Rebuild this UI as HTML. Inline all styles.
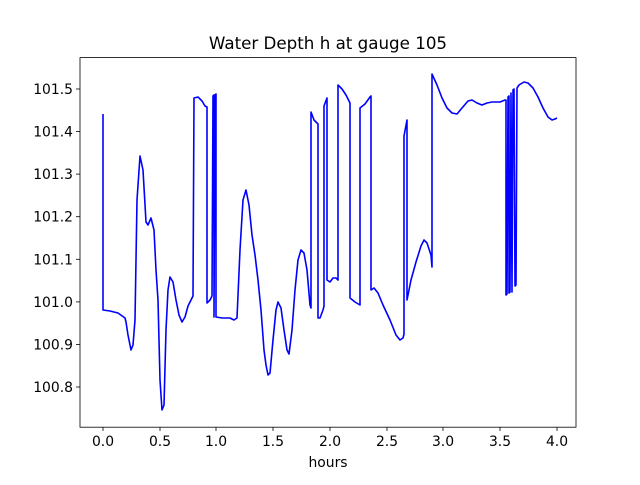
<!DOCTYPE html>
<html><head><style>
body{margin:0;background:#fff;}
svg text{font-family:"DejaVu Sans","Liberation Sans",sans-serif;font-size:13.9px;fill:#000;}
</style></head><body>
<svg width="640" height="480" xmlns="http://www.w3.org/2000/svg">
<rect width="640" height="480" fill="#fff"/>
<polyline fill="none" stroke="#0000ff" stroke-width="1.6" stroke-linejoin="round" points="
103,114 103,310 110,311 118,313 125,318 126,322 128,335 131,350 133,345 135,320 137,200 140,156 143,170 146,222 148,225 151,218 154,230 156,270 158,300 160,380 162,410 164,405 166,330 168,290 170,277 173,282 176,300 179,315 182,322 185,317 188,306 191,300 193,296 194,98 198,97 202,101 205,106 207,107 207,303 210,300 212,296 213,96 214,95 214,317 215,95 216,94 216,317 222,318 230,318 234,320 237,318 240,250 243,200 246,190 249,205 252,235 255,255 258,280 261,310 264,350 266,365 268,375 270,373 273,340 276,310 278,302 281,308 284,330 287,350 289,354 292,330 295,290 298,260 301,250 304,253 307,270 310,305 311,308 311,112 314,120 318,124 318,318 320,318 323,310 324,306 324,106 327,98 327,280 330,282 333,278 336,278 338,280 338,85 342,89 346,95 350,103 350,298 355,302 360,305 360,108 365,104 370,97 371,96 371,290 374,288 378,293 383,305 390,320 396,335 400,340 403,338 404,334 404,136 407,120 407,300 411,280 416,262 421,246 424,240 427,243 431,255 432,267 432,74 437,85 442,98 447,108 452,113 457,114 462,108 468,101 472,100 477,103 482,105 487,103 492,102 500,102 505,100 506,100 506,295 507,294 508,97 509,96 509,293 510,292 511,93 512,292 513,90 514,89 515,286 516,285 517,88 519,85 524,82 528,83 533,88 538,97 543,108 548,117 552,120 555,119 557,118"/>
<rect x="80" y="57.6" width="496" height="369.6" fill="none" stroke="#000" stroke-width="0.8"/>
<g stroke="#000" stroke-width="0.8">
<line x1="103" y1="427" x2="103" y2="431"/><line x1="160" y1="427" x2="160" y2="431"/><line x1="216" y1="427" x2="216" y2="431"/><line x1="273" y1="427" x2="273" y2="431"/><line x1="330" y1="427" x2="330" y2="431"/><line x1="387" y1="427" x2="387" y2="431"/><line x1="443" y1="427" x2="443" y2="431"/><line x1="500" y1="427" x2="500" y2="431"/><line x1="557" y1="427" x2="557" y2="431"/>
<line x1="76" y1="89" x2="80" y2="89"/><line x1="76" y1="131.6" x2="80" y2="131.6"/><line x1="76" y1="174.1" x2="80" y2="174.1"/><line x1="76" y1="216.7" x2="80" y2="216.7"/><line x1="76" y1="259.3" x2="80" y2="259.3"/><line x1="76" y1="301.9" x2="80" y2="301.9"/><line x1="76" y1="344.4" x2="80" y2="344.4"/><line x1="76" y1="387" x2="80" y2="387"/>
</g>
<g text-anchor="middle">
<text x="103" y="446">0.0</text><text x="160" y="446">0.5</text><text x="216" y="446">1.0</text><text x="273" y="446">1.5</text><text x="330" y="446">2.0</text><text x="387" y="446">2.5</text><text x="443" y="446">3.0</text><text x="500" y="446">3.5</text><text x="557" y="446">4.0</text>
<text x="328" y="467">hours</text>
<text x="328" y="49" style="font-size:16.7px">Water Depth h at gauge 105</text>
</g>
<g text-anchor="end">
<text x="73" y="94">101.5</text><text x="73" y="136.6">101.4</text><text x="73" y="179.1">101.3</text><text x="73" y="221.7">101.2</text><text x="73" y="264.3">101.1</text><text x="73" y="306.9">101.0</text><text x="73" y="349.4">100.9</text><text x="73" y="392">100.8</text>
</g>
</svg>
</body></html>
